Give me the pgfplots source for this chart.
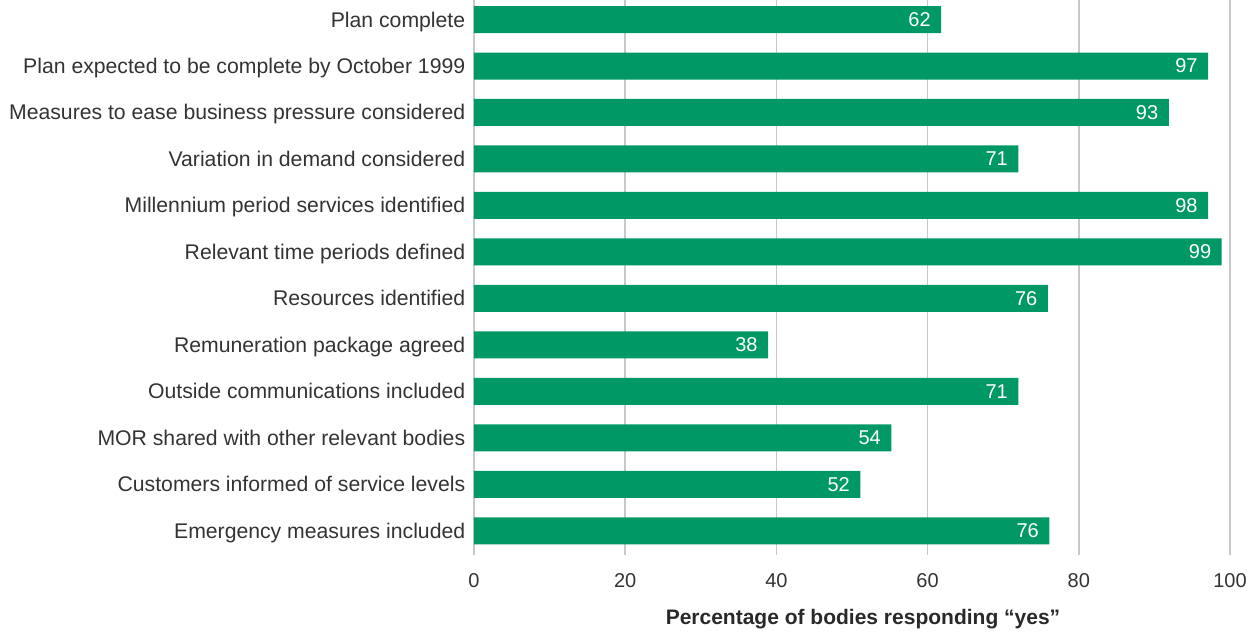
\documentclass[border=0pt]{standalone}
\usepackage{pgfplots}
\pgfplotsset{compat=1.18}
\usepackage{fontspec}
\setmainfont{Liberation Sans}
\usetikzlibrary{calc}
\definecolor{barg}{RGB}{0,153,102}
\definecolor{gridg}{RGB}{200,200,200}
\definecolor{txt}{RGB}{51,51,51}
\begin{document}
\begin{tikzpicture}
\begin{axis}[
  name=ax,
  scale only axis,
  width=756pt, height=555pt,
  xbar, bar width=27pt,
  xmin=0, xmax=100,
  ymin=-0.42, ymax=11.52,
  y dir=reverse,
  xtick={0,20,40,60,80,100},
  ytick={0,...,11},
  yticklabels={Plan complete,Plan expected to be complete by October 1999,Measures to ease business pressure considered,Variation in demand considered,Millennium period services identified,Relevant time periods defined,Resources identified,Remuneration package agreed,Outside communications included,MOR shared with other relevant bodies,Customers informed of service levels,Emergency measures included},
  xmajorgrids,
  grid style={gridg, line width=1.4pt},
  axis line style={draw=none},
  tick style={draw=none},
  /pgf/number format/assume math mode=true,
  xticklabel style={font=\fontsize{20}{24}\selectfont, text=txt, yshift=-15pt},
  yticklabel style={font=\fontsize{21.2}{25}\selectfont, text=txt, xshift=-1pt, text height=15pt, text depth=0pt},
  xlabel={\textbf{Percentage of bodies responding “yes”}},
  xlabel style={font=\fontsize{21}{25}\selectfont, text=txt!80!black, yshift=-15pt, xshift=11pt},
  nodes near coords,
  point meta=explicit symbolic,
  every node near coord/.append style={anchor=east, xshift=-7pt, text=white, font=\fontsize{20}{24}\selectfont},
]
\addplot[fill=barg, draw=none] table[x=x, y=y, meta=lab] {
x y lab
61.8 0 62
97.1 1 97
91.9 2 93
72.0 3 71
97.1 4 98
98.9 5 99
75.9 6 76
38.9 7 38
72.0 8 71
55.2 9 54
51.1 10 52
76.1 11 76
};
\end{axis}
\pgfresetboundingbox
\path ($(ax.south west)+(-474pt,-77pt)$) rectangle ($(ax.north east)+(27pt,0pt)$);
\end{tikzpicture}
\end{document}
